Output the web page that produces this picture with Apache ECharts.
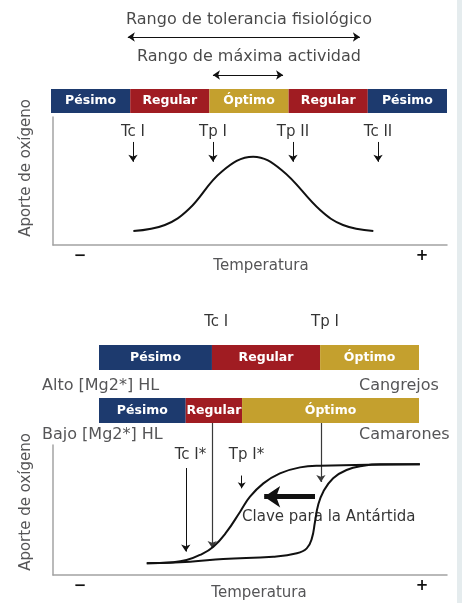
<!DOCTYPE html>
<html><head><meta charset="utf-8">
<script src="https://cdn.jsdelivr.net/npm/echarts@6/dist/echarts.min.js"></script>
<style>html,body{margin:0;padding:0;background:#fff}#c{width:462px;height:603px}</style>
</head><body><div id="c"></div>
<script>
// ---------- DATA ----------
const COLORS = { pesimo: '#1d3a6e', regular: '#a01c22', optimo: '#c4a02e' };
// Top panel band (share of the range, %)
const bandTopNames  = ['Pésimo', 'Regular', 'Óptimo', 'Regular', 'Pésimo'];
const bandTopWidths = [20, 20, 20, 20, 20];
const bandTopKinds  = ['pesimo', 'regular', 'optimo', 'regular', 'pesimo'];
// Bottom panel bands
const bandCrabNames   = ['Pésimo', 'Regular', 'Óptimo'];
const bandCrabWidths  = [35.3, 33.8, 30.9];
const bandShrimpNames = ['Pésimo', 'Regular', 'Óptimo'];
const bandShrimpWidths= [27.1, 17.6, 55.3];
const bandKinds3 = ['pesimo', 'regular', 'optimo'];

// Top curve: temperature (0-100) vs oxygen supply (0-100)
const tempTop = [20.4, 28.4, 34.5, 42.8, 50.8, 58.0, 67.8, 73.6, 81.3];
const o2Top   = [10.9, 15.6, 28.1, 57.3, 69.0, 58.6, 27.3, 15.6, 10.9];
// Top panel markers
const markTopNames = ['Tc I', 'Tp I', 'Tp II', 'Tc II'];
const markTopTemp  = [20.3, 40.6, 60.9, 82.5];

// Bottom curves
const tempLeft  = [23.8, 30.5, 33.9, 37.3, 40.7, 44.1, 47.5, 50.0, 53.4, 57.6, 62.7, 67.8, 93.1];
const o2Left    = [9.0, 9.8, 11.5, 15.4, 21.8, 33.3, 48.7, 60.2, 70.5, 78.2, 82.8, 84.1, 85.2];
const tempRight = [23.8, 34.8, 43.2, 55.9, 61.9, 64.4, 65.7, 66.5, 67.3, 68.6, 71.1, 74.5, 78.8, 83.0, 93.1];
const o2Right   = [9.0, 10.2, 12.3, 14.1, 16.7, 20.5, 28.2, 41.0, 53.8, 64.1, 74.4, 80.8, 84.1, 85.2, 85.2];
// Bottom markers
const markBotNames = ['Tc I*', 'Tp I*'];
const markBotTemp  = [33.7, 47.9];
const bandMarkNames = ['Tc I', 'Tp I'];
const bandMarkTemp  = [40.4, 68.0];

// ---------- CHART ----------
const FONT = 'DejaVu Sans';
const TXT = '#1a1a1a', GRAY = '#555557', AX = '#a3a3a3';
const chart = echarts.init(document.getElementById('c'), null, { renderer: 'canvas' });

const hidX = (min, max) => ({ type: 'value', min, max, show: false });
const hidY = (min, max, inv) => ({ type: 'value', min, max, show: false, inverse: !!inv });

const grids = [
  { left: 51, top: 0, width: 396, height: 89 },     // 0 header top
  { left: 51, top: 89, width: 396, height: 24 },    // 1 band top
  { left: 53, top: 117, width: 394, height: 128 },  // 2 plot top
  { left: 53, top: 300, width: 394, height: 275 },  // 3 annot bottom
  { left: 99, top: 345, width: 320, height: 25 },   // 4 band crab
  { left: 99, top: 398, width: 320, height: 25 },   // 5 band shrimp
  { left: 53, top: 445, width: 394, height: 130 }   // 6 plot bottom
];

const plotX = (gi) => ({ type: 'value', gridIndex: gi, min: 0, max: 100, axisLine: { show: true, lineStyle: { color: AX, width: 1.5 } }, axisTick: { show: false }, axisLabel: { show: false }, splitLine: { show: false } });
const plotY = (gi) => ({ type: 'value', gridIndex: gi, min: 0, max: 100, axisLine: { show: true, lineStyle: { color: AX, width: 1.5 } }, axisTick: { show: false }, axisLabel: { show: false }, splitLine: { show: false } });

const xAxes = [
  Object.assign(hidX(0, 100), { gridIndex: 0 }),
  Object.assign(hidX(0, 100), { gridIndex: 1 }),
  plotX(2),
  Object.assign(hidX(0, 100), { gridIndex: 3 }),
  Object.assign(hidX(0, 100), { gridIndex: 4 }),
  Object.assign(hidX(0, 100), { gridIndex: 5 }),
  plotX(6)
];
const bandY = (gi) => ({ type: 'category', gridIndex: gi, data: ['b'], show: false });
const yAxes = [
  Object.assign(hidY(0, 89, true), { gridIndex: 0 }),
  bandY(1),
  plotY(2),
  Object.assign(hidY(0, 275, true), { gridIndex: 3 }),
  bandY(4),
  bandY(5),
  plotY(6)
];

const series = [];
function band(gi, names, widths, kinds, stack) {
  names.forEach((n, i) => series.push({
    type: 'bar', xAxisIndex: gi, yAxisIndex: gi, stack, data: [widths[i]],
    barWidth: '100%', silent: true,
    itemStyle: { color: COLORS[kinds[i]] },
    label: { show: true, position: 'inside', formatter: n, color: '#fff', fontFamily: FONT, fontWeight: 'bold', fontSize: 12.5 }
  }));
}
band(1, bandTopNames, bandTopWidths, bandTopKinds, 'top');
band(4, bandCrabNames, bandCrabWidths, bandKinds3, 'crab');
band(5, bandShrimpNames, bandShrimpWidths, bandKinds3, 'shrimp');

function texts(gi, items, style) {
  series.push({
    type: 'scatter', xAxisIndex: gi, yAxisIndex: gi, symbolSize: 0, silent: true,
    data: items.map(it => ({ value: [it[0], it[1]], name: it[2] })),
    label: Object.assign({ show: true, position: 'inside', formatter: '{b}', fontFamily: FONT, fontSize: 15, color: '#000' }, style || {})
  });
}
function arrows(gi, segs, opts) {
  opts = opts || {};
  series.push({
    type: 'lines', coordinateSystem: 'cartesian2d', xAxisIndex: gi, yAxisIndex: gi, silent: true,
    symbol: opts.symbol || ['none', 'arrow'], symbolSize: opts.size || 7,
    lineStyle: { color: opts.color || '#111', width: opts.width || 1, opacity: 1 },
    data: segs.map(s => ({ coords: s }))
  });
}
function curve(gi, xs, ys, sm) {
  series.push({
    type: 'line', xAxisIndex: gi, yAxisIndex: gi, smooth: sm, showSymbol: false, silent: true,
    lineStyle: { color: '#111', width: 2 },
    data: xs.map((t, i) => [t, ys[i]])
  });
}

// Header top
texts(0, [[50, 20, 'Rango de tolerancia fisiológico'], [50, 57, 'Rango de máxima actividad']], { fontSize: 16, color: TXT });
arrows(0, [[[19.4, 37], [78.0, 37]], [[40.9, 75], [58.6, 75]]], { symbol: ['arrow', 'arrow'], size: 7 });

// Top plot
curve(2, tempTop, o2Top, 0.4);
texts(2, markTopNames.map((n, i) => [markTopTemp[i], 88.3, n]));
arrows(2, markTopTemp.map(t => [[t, 80.5], [t, 65]]));

// Bottom annotation
texts(3, bandMarkNames.map((n, i) => [bandMarkTemp[i], 22, n]), { offset: [4, 0] });
arrows(3, [[[bandMarkTemp[0], 123], [bandMarkTemp[0], 248]], [[bandMarkTemp[1], 123], [bandMarkTemp[1], 182]]], { color: '#3a3a3a', width: 1.2 });

// Bottom plot
curve(6, tempLeft, o2Left, 0.45);
curve(6, tempRight, o2Right, 0.45);
texts(6, markBotNames.map((n, i) => [markBotTemp[i] + 1.2, 92.3, n]));
arrows(6, [[[markBotTemp[0], 82.3], [markBotTemp[0], 18]]]);
arrows(6, [[[markBotTemp[1], 76.5], [markBotTemp[1], 66.7]]], { size: 6 });
arrows(6, [[[66.5, 60.2], [53.6, 60.2]]], { width: 5, size: 16 });
texts(6, [[48.0, 44.6, 'Clave para la Antártida']], { align: 'left' });

const gtext = (x, y, text, o) => Object.assign({ type: 'text', x, y, silent: true,
  style: Object.assign({ text, fill: GRAY, font: '15px "' + FONT + '"', textAlign: 'center', textVerticalAlign: 'middle', align: 'center', verticalAlign: 'middle' }, (o && o.style) || {}) }, (o && o.el) || {});

const graphic = [
  { type: 'rect', shape: { x: 457, y: 0, width: 5, height: 603 }, style: { fill: '#e5ecee' }, silent: true },
  gtext(26, 168, 'Aporte de oxígeno', { el: { rotation: Math.PI / 2 } }),
  gtext(26, 502, 'Aporte de oxígeno', { el: { rotation: Math.PI / 2 } }),
  gtext(80, 256, '−', { style: { fill: '#111', font: 'bold 15px "' + FONT + '"' } }),
  gtext(422, 256, '+', { style: { fill: '#111', font: 'bold 15px "' + FONT + '"' } }),
  gtext(261, 266, 'Temperatura'),
  gtext(80, 586, '−', { style: { fill: '#111', font: 'bold 15px "' + FONT + '"' } }),
  gtext(422, 586, '+', { style: { fill: '#111', font: 'bold 15px "' + FONT + '"' } }),
  gtext(259, 593, 'Temperatura'),
  gtext(42, 386, 'Alto [Mg2*] HL', { style: { font: '16px "' + FONT + '"', textAlign: 'left', align: 'left' } }),
  gtext(359, 386, 'Cangrejos', { style: { font: '16px "' + FONT + '"', textAlign: 'left', align: 'left' } }),
  gtext(42, 435, 'Bajo [Mg2*] HL', { style: { font: '16px "' + FONT + '"', textAlign: 'left', align: 'left' } }),
  gtext(359, 435, 'Camarones', { style: { font: '16px "' + FONT + '"', textAlign: 'left', align: 'left' } })
];

chart.setOption({
  animation: false,
  backgroundColor: '#fff',
  grid: grids,
  xAxis: xAxes,
  yAxis: yAxes,
  series,
  graphic
});
</script></body></html>
